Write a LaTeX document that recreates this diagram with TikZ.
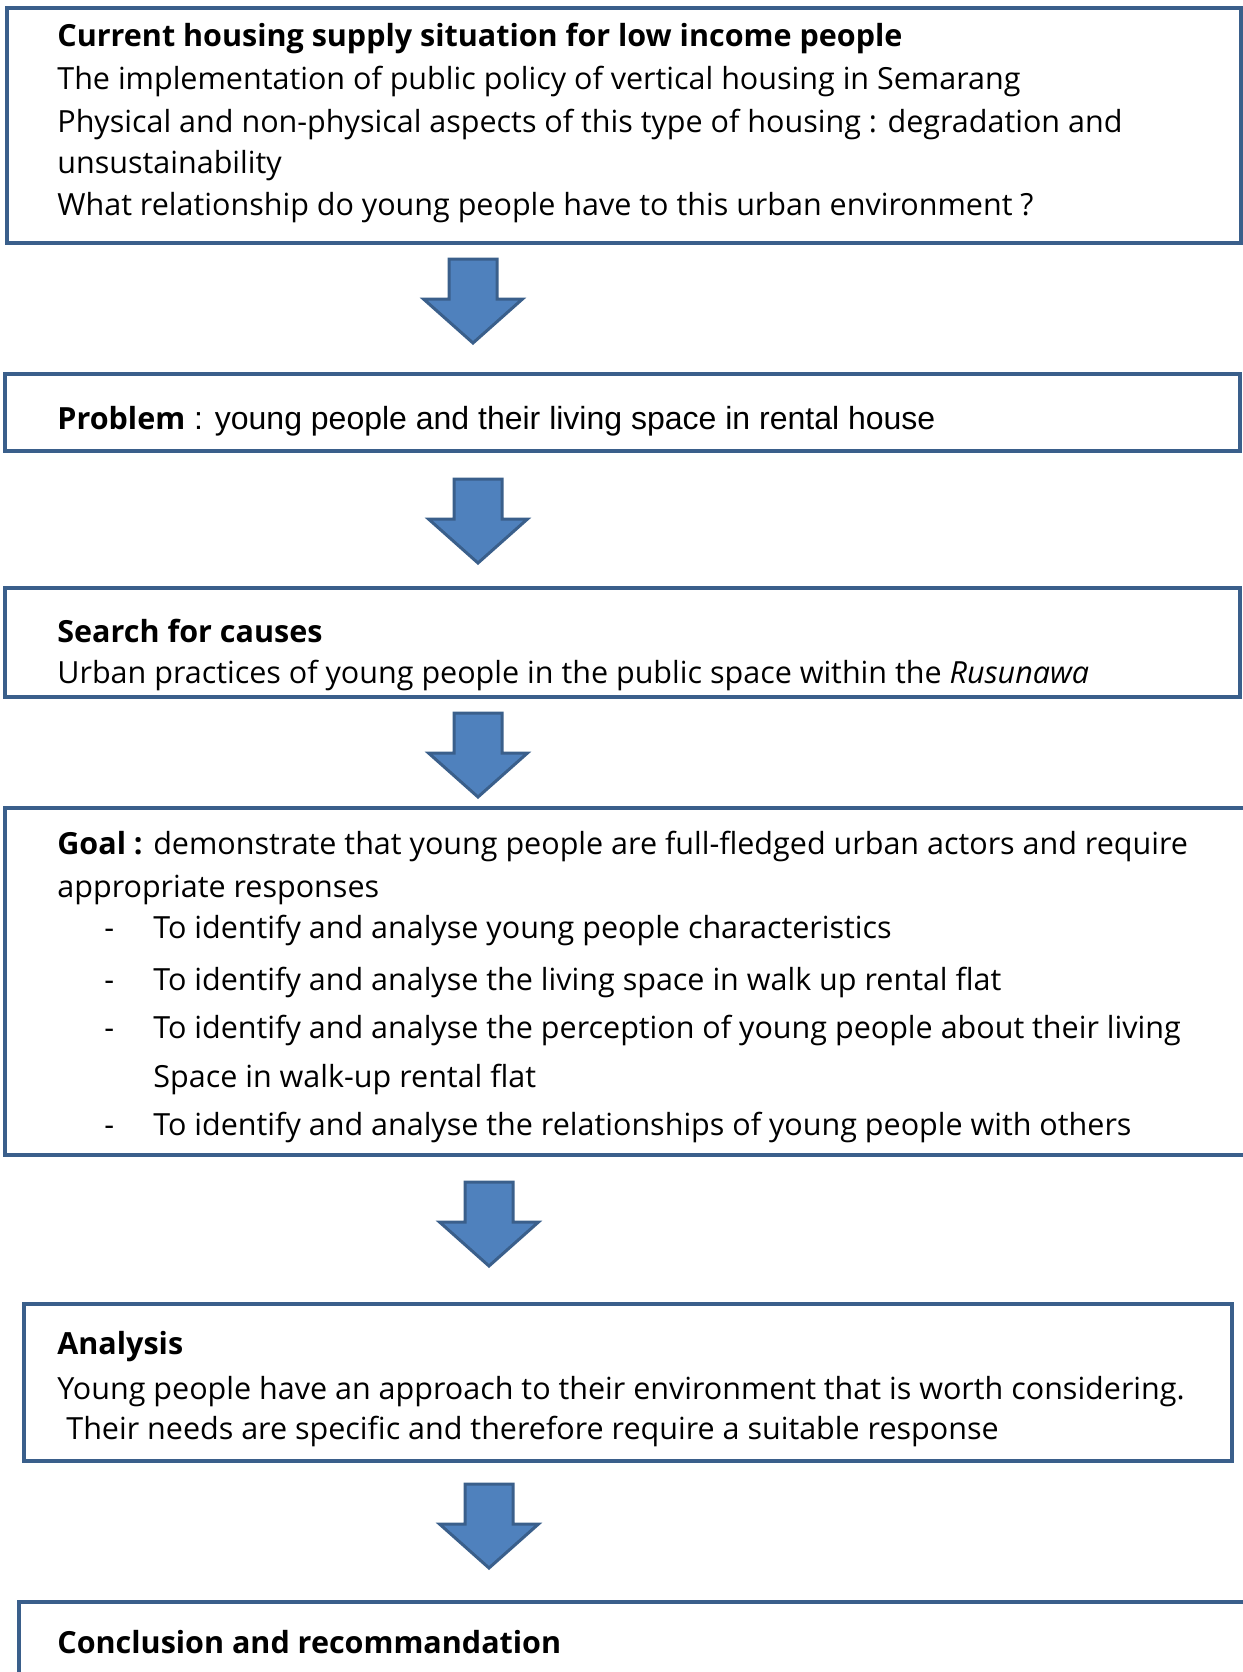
\documentclass[tikz,border=0pt]{standalone}
\usepackage{fontspec}
\setmainfont{Open Sans}
\newfontfamily\arialfont{Liberation Sans}
\usetikzlibrary{positioning}

\definecolor{frameblue}{HTML}{3A5F8B}
\definecolor{arrowblue}{HTML}{4F81BD}

\begin{document}
\begin{tikzpicture}[x=0.5pt, y=-0.5pt,
    box/.style={draw=frameblue, line width=2pt},
    blockarrow/.style={draw=frameblue, fill=arrowblue, line width=1.5pt, line join=miter},
    txt/.style={anchor=base west, inner sep=0pt, font=\fontsize{15.25pt}{18pt}\selectfont}]
    \useasboundingbox (0,0) rectangle (1243,1672);
    \clip (0,0) rectangle (1243,1672);

    % frames
    \draw[box] (7,8) rectangle (1241,243);
    \draw[box] (5,374) rectangle (1240,451);
    \draw[box] (5,588) rectangle (1240,697);
    \draw[box] (5,808) rectangle (1260,1155);
    \draw[box] (24,1304) rectangle (1232,1461);
    \draw[box] (19,1602) rectangle (1260,1700);

    % situation
    \node[txt] (sit) at (57,46) {\textbf{Current housing supply situation for low income people}};
    \node[txt] (sit1) at (57,89) {The implementation of public policy of vertical housing in Semarang};
    \node[txt] (sit2) at (57,132) {Physical and non-physical aspects of this type of housing : degradation and};
    \node[txt] (sit3) at (57,173) {unsustainability};
    \node[txt] (sit4) at (57,215) {What relationship do young people have to this urban environment ?};

    % problem
    \node[txt] (prob) at (57,429) {\textbf{Problem}\arialfont\fontsize{16pt}{18pt}\selectfont{} : young people and their living space in rental house};

    % causes
    \node[txt] (cause) at (57,642) {\textbf{Search for causes}};
    \node[txt] (cause1) at (57,683) {Urban practices of young people in the public space within the \textit{Rusunawa}};

    % goal
    \node[txt] (goal) at (57,854) {\textbf{Goal :} demonstrate that young people are full-fledged urban actors and require};
    \node[txt] (goal1) at (57,897) {appropriate responses};
    \foreach \y/\t [count=\i] in {938/To identify and analyse young people characteristics,
                                 990/To identify and analyse the living space in walk up rental flat,
                                 1038/To identify and analyse the perception of young people about their living,
                                 1135/To identify and analyse the relationships of young people with others} {
        \node[txt] (dash\i) at (104,\y) {-};
        \node[txt] (aim\i) at (153,\y) {\t};
    }
    \node[txt] (aim3b) at (153,1087) {Space in walk-up rental flat};

    % analysis
    \node[txt] (ana) at (57,1354) {\textbf{Analysis}};
    \node[txt] (ana1) at (57,1399) {Young people have an approach to their environment that is worth considering.};
    \node[txt] (ana2) at (66,1439) {Their needs are specific and therefore require a suitable response};

    % conclusion
    \node[txt] (concl) at (57,1653) {\textbf{Conclusion and recommandation}};

    % block arrows
    \foreach \ax/\ay [count=\i] in {473/259, 478/479, 478/713, 489/1182, 489/1484} {
        \coordinate (arr\i) at (\ax,\ay);
        \draw[blockarrow] (arr\i) ++(-24,0) -- ++(48,0) -- ++(0,40) -- ++(25.5,0)
            -- ++(-49.5,44) -- ++(-49.5,-44) -- ++(25.5,0) -- cycle;
    }
\end{tikzpicture}
\end{document}
